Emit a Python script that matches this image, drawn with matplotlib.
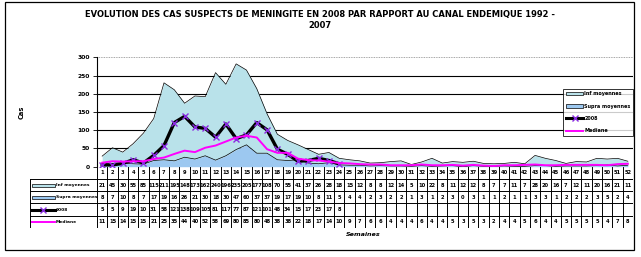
import numpy as np
import matplotlib
matplotlib.use('Agg')
import matplotlib.pyplot as plt
from matplotlib.patches import Rectangle
from matplotlib.lines import Line2D

# data
weeks = list(range(1, 53))
inf_moy = [21, 45, 30, 55, 85, 115, 211, 195, 148, 173, 162, 240, 196, 235, 205, 177, 108, 70, 55, 41,
           37, 26, 28, 18, 15, 12, 8, 8, 12, 14, 5, 10, 22, 8, 11, 12, 12, 8, 7, 7,
           11, 7, 28, 20, 16, 7, 12, 11, 20, 16, 21, 11]
supra_moy = [8, 7, 10, 8, 7, 17, 19, 16, 26, 21, 30, 18, 30, 47, 60, 37, 37, 19, 17, 19,
             10, 8, 11, 5, 4, 4, 2, 3, 2, 2, 1, 3, 1, 2, 3, 0, 3, 1, 1, 2,
             1, 1, 3, 3, 1, 2, 2, 2, 3, 5, 2, 4]
cas_2008 = [5, 5, 9, 19, 10, 31, 58, 121, 138, 109, 105, 81, 117, 77, 87, 121, 101, 48, 34, 15,
            17, 23, 17, 8] + [None] * 28
mediane = [11, 15, 14, 15, 15, 21, 25, 35, 44, 40, 52, 58, 69, 80, 85, 80, 48, 38, 38, 22,
           18, 17, 14, 10, 9, 7, 6, 6, 4, 4, 4, 6, 4, 4, 5, 3, 5, 3, 2, 4,
           4, 5, 6, 4, 4, 5, 5, 5, 5, 4, 7, 8]

labels = ['Inf moyennes', 'Supra moyennes', '2008', 'Mediane']
c_inf = '#b9e2ea'
c_sup = '#9cc8f0'
c_med = '#ff00ff'
c_mark = '#8a2be2'

W, H = 641, 257
fig = plt.figure(figsize=(W / 100, H / 100), dpi=100)
fig.patch.set_facecolor('white')

def fx(px):
    return px / W

def fy(py):
    return 1 - py / H

# outer border
fig.patches.append(Rectangle((fx(5), fy(250)), fx(634) - fx(5), fy(2) - fy(250),
                             transform=fig.transFigure, fill=False, lw=0.9, ec='black'))

title_kw = dict(ha='center', va='center', fontsize=6.0, fontweight='bold')
fig.text(fx(320), fy(14), 'EVOLUTION DES CAS SUSPECTS DE MENINGITE EN 2008 PAR RAPPORT AU CANAL ENDEMIQUE 1992 -', **title_kw)
fig.text(fx(320), fy(26), '2007', **title_kw)

# main chart
x0, x1 = 97, 633
y_top, y_bot = 57.3, 166.7
ax = fig.add_axes([fx(x0), fy(y_bot), fx(x1) - fx(x0), fy(y_top) - fy(y_bot)])
xs = np.array(weeks) - 0.5
sup = np.array(supra_moy, dtype=float)
tot = sup + np.array(inf_moy, dtype=float)
ax.fill_between(xs, sup, tot, color=c_inf, lw=0)
ax.fill_between(xs, 0, sup, color=c_sup, lw=0)
ax.plot(xs, tot, color='black', lw=0.5)
ax.plot(xs, sup, color='black', lw=0.5)
y08 = np.array([np.nan if v is None else v for v in cas_2008], dtype=float)
ax.plot(xs, y08, color='black', lw=2.4, marker='x', ms=4, mec=c_mark, mew=1.0)
ax.plot(xs, mediane, color=c_med, lw=1.4)

ax.set_xlim(0, 52)
ax.set_ylim(0, 300)
ax.set_yticks(range(0, 301, 50))
for v in range(50, 300, 50):
    ax.axhline(v, color='black', lw=0.8, zorder=0)
ax.axhline(300, color='#888888', lw=0.6, ls=(0, (1, 1)), zorder=0)
ax.set_xticks([])
for s in ['top', 'right', 'bottom']:
    ax.spines[s].set_visible(False)
ax.spines['left'].set_linewidth(0.8)
ax.tick_params(axis='y', length=3, width=0.6, pad=2, labelsize=4.3)
for t in ax.get_yticklabels():
    t.set_fontweight('bold')
ax.patch.set_alpha(0)
fig.text(fx(22), fy(112), 'Cas', rotation=90, ha='center', va='center', fontsize=4.8, fontweight='bold')

# legend box
handles = [Rectangle((0, 0), 1, 1, fc=c_inf, ec='black', lw=0.5),
           Rectangle((0, 0), 1, 1, fc=c_sup, ec='black', lw=0.5),
           Line2D([], [], color='black', lw=2.2, marker='x', ms=4, mec=c_mark),
           Line2D([], [], color=c_med, lw=1.4)]
leg = fig.legend(handles, labels, loc='upper right', bbox_to_anchor=(fx(633), fy(89)),
                 fontsize=3.5, frameon=True, fancybox=False, edgecolor='black',
                 handlelength=3.6, handleheight=0.7, labelspacing=1.5, borderpad=0.5,
                 handletextpad=0.2, borderaxespad=0)
leg.get_frame().set_linewidth(0.7)
for t in leg.get_texts():
    t.set_fontweight('bold')

# data table
tl = 30
col_w = (x1 - x0) / 52
lab_cols = (x0 - tl) / col_w
tab_top, tab_bot = 166.7, 228
axt = fig.add_axes([fx(tl), fy(tab_bot), fx(x1) - fx(tl), fy(tab_top) - fy(tab_bot)])
axt.set_xlim(-lab_cols, 52)
axt.set_ylim(5, 0)
axt.axis('off')
lw_t = 0.7
rows = [inf_moy, supra_moy, cas_2008, mediane]
for i in range(53):
    axt.plot([i, i], [0, 5], color='black', lw=lw_t)
axt.plot([-lab_cols, -lab_cols], [1, 5], color='black', lw=lw_t)
for r in range(1, 6):
    axt.plot([-lab_cols, 52], [r, r], color='black', lw=lw_t)
tkw = dict(ha='center', va='center', fontsize=3.7, fontweight='bold')
for i, w in enumerate(weeks):
    axt.text(i + 0.5, 0.5, str(w), **tkw)
    for r, row in enumerate(rows):
        v = row[i]
        if v is not None:
            axt.text(i + 0.5, r + 1.5, str(v), **tkw)
sx0, sx1 = -lab_cols + 0.2, -lab_cols + 2.4
axt.add_patch(Rectangle((sx0, 1.38), sx1 - sx0, 0.25, fc=c_inf, ec='black', lw=0.5))
axt.add_patch(Rectangle((sx0, 2.38), sx1 - sx0, 0.25, fc=c_sup, ec='black', lw=0.5))
axt.plot([sx0, sx1], [3.5, 3.5], color='black', lw=2.2)
axt.plot([(sx0 + sx1) / 2], [3.5], marker='x', ms=4, mec=c_mark, ls='none')
axt.plot([sx0, sx1], [4.5, 4.5], color=c_med, lw=1.4)
for r, lab in enumerate(labels):
    axt.text(sx1 + 0.1, r + 1.5, lab, ha='left', va='center', fontsize=3.2, fontweight='bold')

fig.text(fx(363), fy(234), 'Semaines', ha='center', va='center', fontsize=4.6,
         fontweight='bold', style='italic')

fig.savefig('out.png', dpi=100)
